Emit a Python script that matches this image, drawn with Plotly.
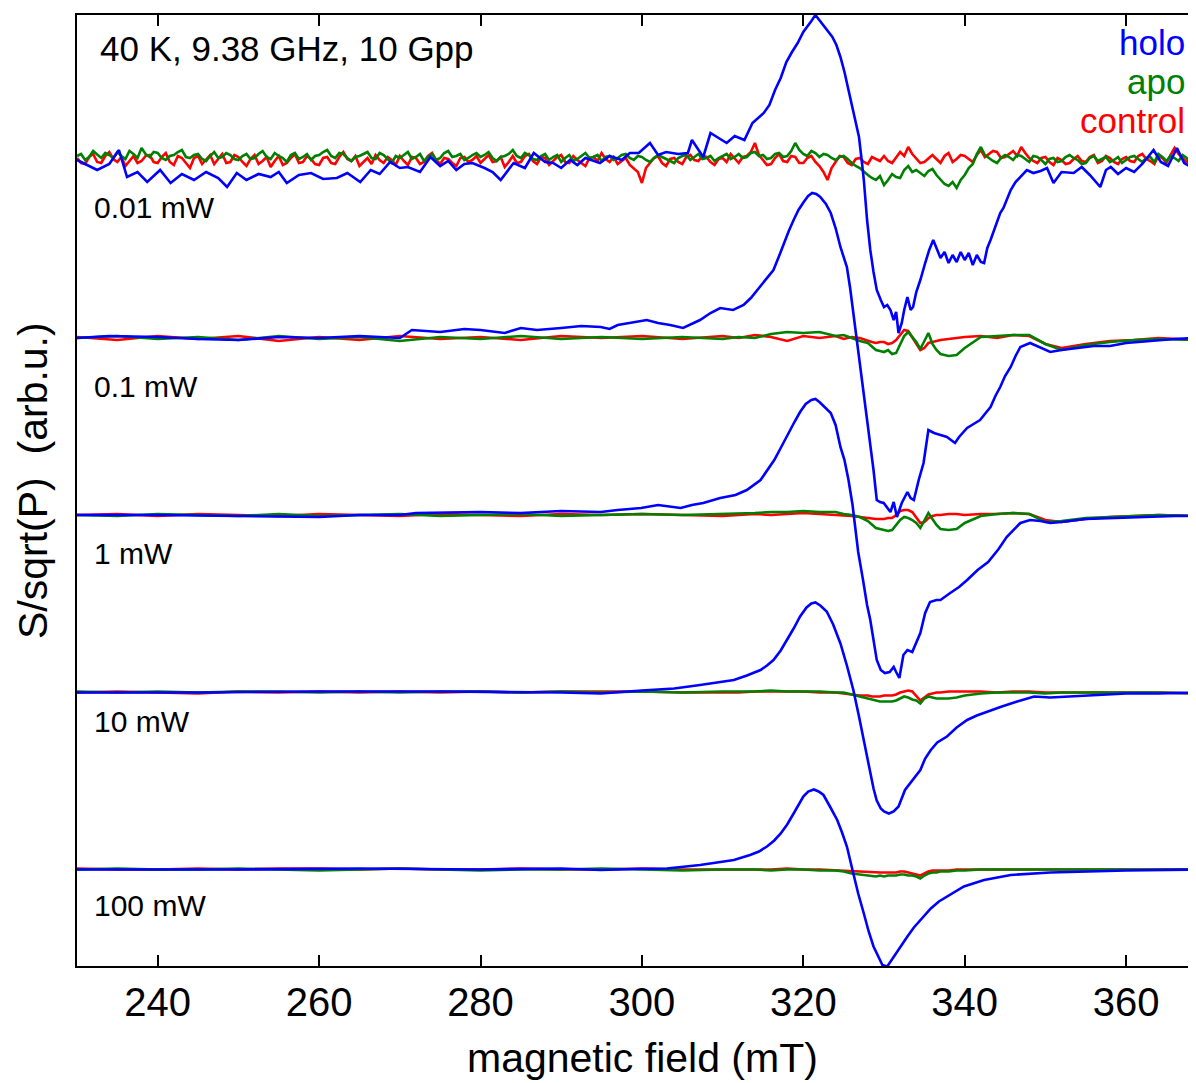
import plotly.graph_objects as go

FONT = "Liberation Sans, Arial, Helvetica, sans-serif"
BLUE, GREEN, RED = "#0000FF", "#008000", "#FF0000"

# ---- data (signal in arb.u., baseline of each spectrum = 0) ----
powers = ["0.01 mW", "0.1 mW", "1 mW", "10 mW", "100 mW"]
offsets = [709.5, 531.5, 354.5, 177, 0]          # vertical stacking of the spectra
label_dy = [-47.5, -48.7, -38, -28.5, -36]       # power label below each baseline

# 0.01 mW control / apo, sampled every 0.5 mT (230 ... 368)
field_fine = [230 + 0.5 * i for i in range(277)]
control_001 = [2, -3, -4, 3, 6, -2, -3, 4, 8, 1, -2, 3, -6, -1, 4, -3, -1, 4, 5, -2,
               -3, 3, 7, -2, -5, 4, 2, -3, -8, 2, 4, -4, 0, 5, -4, 1, 6, -3, -2, 5,
               3, -2, -6, 1, 5, -4, -1, 3, -7, -1, 4, -5, -3, 2, 6, -3, -2, 4, 1, -4,
               -5, 2, 3, -3, -4, 3, 8, 1, -1, 4, -6, -2, 2, -4, 5, 0, -3, 3, 0, -5,
               4, -1, -5, 3, 2, -4, -2, 4, 7, 0, -4, 2, 1, -3, -6, 2, 3, -2, 0, 4,
               -3, 1, 5, -2, -1, 3, -7, -2, 4, -3, -2, 4, 6, -1, -4, 3, 2, -5, -1, 3,
               5, -2, -3, 4, 0, -3, -6, 2, 3, -1, 7, 1, -2, 3, -4, -1, 2, -5, -9, -12,
               -23, -8, -3, 2, 4, -3, -6, 1, 2, -2, -4, 3, 5, 0, -1, 4, 3, -2, -5, 1,
               2, -2, 6, 1, -3, 3, 4, 8, 17, 5, 0, -5, -4, 2, 6, -1, -2, 4, 3, -3,
               -3, 2, 4, -2, -6, -12, -20, -8, -2, 4, 3, -3, -5, 1, 2, -2, -4, 3, 1, -1,
               4, -1, -3, 3, 8, 4, 13, 6, 2, -3, -2, 2, 5, 1, -3, 4, 7, -2, 1, 5,
               4, 1, -2, 5, 10, 3, 6, 9, 8, 2, 3, 6, 9, 4, 13, 7, 2, -1, -3, 2,
               3, -2, -5, 2, 0, -4, -3, 1, 4, -1, -2, 3, 5, -3, -1, 4, 2, -2, -4, 1,
               3, -1, -2, 4, 6, 1, -1, -4, 4, 2, -3, 5, 12, 6, 2, -2,
               -3]
apo_001 = [4, 6, 0, 3, 9, 5, 2, 7, 5, 2, 8, 4, 1, 9, 6, 2, 12, 6, 3, 8,
           7, 2, 0, 4, 5, 8, 10, 3, 2, 5, 6, 1, -1, 4, 8, 2, 3, 7, 5, 1,
           0, 4, 6, 1, 2, 6, 9, 3, 1, 7, 4, 2, -2, 5, 7, 1, 3, 6, 0, 4,
           5, 8, 10, 4, 2, 7, 6, 2, -1, 3, 4, 6, 8, 2, 1, 7, 5, 1, -3, 4,
           2, 5, 8, 1, 3, 6, -1, 3, 6, 0, 2, 7, 9, 3, 4, 6, 0, 2, 5, 7,
           3, 5, 8, 2, -1, 3, 4, 6, 10, 4, 2, 7, 5, 1, 0, 4, 6, 0, 3, 5,
           -2, 2, 5, -1, 1, 4, 7, 2, 3, 5, -1, 3, 4, 0, 2, 5, 6, 2, 0, 4,
           3, 0, -2, 2, 5, 3, 1, -1, -3, 2, 4, 5, 0, 3, 6, 1, 2, 4, -1, 2,
           4, 6, 1, 3, 6, 2, 3, 7, 8, 4, 5, 1, 2, 6, 7, 3, 4, 9, 17, 10,
           6, 4, 9, 7, 3, 6, 5, 2, 0, 3, 4, 1, -3, -6, -8, -12, -15, -18, -20, -16,
           -25, -20, -14, -17, -18, -10, -6, -12, -10, -13, -16, -11, -9, -15, -20, -24, -26, -22, -28, -20,
           -15, -8, -4, 6, 13, 5, 2, -1, -3, 2, 5, 3, 0, 5, 4, 1, -2, 4, 3, 0,
           -4, 1, 2, -2, -1, 3, 5, 2, 0, -4, -3, 2, 4, -1, 1, 3, -2, 0, 3, -3,
           0, 3, 4, 1, -2, 2, 3, -2, 6, 3, -1, 4, 2, -1, 5, 2,
           -4]

# control / apo at 0.1 ... 100 mW share this field grid (mT)
field_grid = [230, 235, 240, 245, 250, 255, 260, 265, 270, 275, 280, 285, 290, 295, 300, 305, 310,
              312, 314, 316, 318, 320, 322, 324, 325, 326, 327,
              328, 328.5, 329, 329.5, 330, 330.5, 331, 331.5, 332, 332.5, 333, 333.5, 334, 334.5,
              335, 335.5, 336, 336.5, 337,
              338, 339, 340, 342, 344, 346, 348, 350, 352, 355, 358, 361, 364, 368.7]
control_01 = [1, -2, 2, -1, 2, -3, 1, -2, 2, -1, 1, -2, 2, 0, 2, -1, 2,
              0, 3, 1, -3, 2, 0, 2, -1, 1, 0,
              -3, -4, -5, -4, -4, -6, -5, -2, 3, 8, 7, 1, -6, -12, -10, -5, -4, -3, -2,
              -1, 0, 1, 2, 0, 3, 2, -6, -10, -6, -3, -2, 0, -2]
apo_01 = [0, 2, -1, 1, -2, 2, -1, 1, -3, 1, -1, 2, -1, 1, -1, 1, -1,
          1, 0, 4, 6, 5, 6, 2, 3, 0, -3,
          -5, -9, -12, -13, -14, -12, -16, -15, -6, 2, 6, 1, -4, -11, -3, 5, -6, -12, -16,
          -18, -17, -10, 1, 2, 3, 3, -6, -12, -7, -4, -2, -1, -2]
control_1 = [0, 1, -1, 1, 0, -1, 1, 0, -1, 1, 0, -1, 1, 0, 1, 0, -1,
             0, 1, 0, 1, 2, 1, 0, 0, -1, -2,
             -3, -4, -4, -4, -4, -3, -3, 0, 4, 5, 5, 3, -3, -8, -7, -3, -1, 0, 0,
             1, 1, 0, 1, 1, 2, 1, -5, -7, -4, -2, -1, 0, -1]
apo_1 = [0, -1, 1, 0, -1, 1, -1, 0, 1, -1, 0, 1, -1, 0, 1, 0, 1,
         1, 2, 3, 3, 4, 3, 3, 1, 0, -2,
         -6, -10, -13, -14, -15, -16, -15, -10, -5, -2, -3, -5, -8, -13, -5, 2, -4, -10, -14,
         -15, -14, -8, -1, 1, 2, 1, -7, -6, -3, -2, -1, 0, -1]
control_10 = [0, 1, 0, -1, 1, 0, 1, 0, 1, 0, 1, 0, 1, 1, 1, 0, 0,
              0, 1, 1, 1, 1, 0, 0, -1, -2, -3,
              -3, -4, -4, -4, -3, -3, -3, -2, 0, 1, 2, 1, -3, -8, -5, -2, -1, 0, 0,
              1, 1, 1, 1, 0, 1, 1, 0, 0, 0, 0, 0, 0, -1]
apo_10 = [1, 0, 1, 0, 1, 1, 0, 1, 0, 1, 1, 0, 1, 0, 1, 0, 1,
          1, 1, 2, 1, 1, 1, 0, 0, -2, -4,
          -6, -7, -8, -9, -9, -9, -9, -8, -6, -4, -5, -7, -8, -11, -6, -4, -5, -6, -6,
          -6, -5, -3, -1, 0, 0, 0, -1, 0, 0, 0, 0, 0, -1]
control_100 = [1, 0, 0, 1, 0, 1, 1, 0, 1, 0, 0, 1, 0, 0, 1, 0, 0,
               0, 0, 0, 1, 0, 0, -1, -1, -2, -2,
               -3, -3, -3, -3, -3, -3, -3, -3, -2, -2, -3, -4, -5, -6, -4, -2, -1, -1, -1,
               -1, 0, 0, 0, 0, 0, 0, 0, 0, 0, 0, 0, 0, 0]
apo_100 = [0, 1, 0, 0, 1, 0, -1, 0, 1, 0, -1, 0, 0, 1, 0, -1, 0,
           0, 0, -1, 0, 0, -1, -1, -2, -4, -5,
           -6, -6, -7, -6, -7, -6, -6, -6, -5, -5, -6, -6, -7, -9, -6, -4, -3, -3, -2,
           -2, -1, -1, 0, 0, 0, 0, 0, 0, 0, 0, 0, 0, 0]

# holo spectra, each on its own field points
field_holo_001 = [230, 231.5, 232.5, 234, 235.2, 236.2, 237.5, 238.7, 240.3, 241.6,
                  243, 244.5, 246, 247.5, 248.6, 249.8, 251, 252.5, 254, 255,
                  256, 257.5, 259, 260.5, 262.2, 263.5, 265.1, 266.4, 267.5, 268.8,
                  270, 271, 272.5, 273.8, 275, 276, 277, 278, 279, 280.5,
                  281.5, 282.5, 284.1, 285.5, 286.6, 288, 289, 290, 291.1, 292,
                  293, 294.8, 296, 297.5, 298.5, 299.6, 301, 302, 303, 304.5,
                  305.7, 306.2, 307.6, 308.5, 309.5, 310.5, 311.5, 312.7, 313.7, 314.4,
                  315.1, 315.8, 316.5, 317.2, 317.9, 318.6, 319.3, 320, 320.5, 321,
                  321.5, 322, 322.6, 323.1, 323.6, 324.1, 324.6, 325.1, 325.5, 326.2,
                  326.9, 327.3, 327.5, 327.9, 328.3, 328.7, 329.1, 329.6, 330, 330.4,
                  330.8, 331.2, 331.5, 331.8, 332.2, 332.5, 332.9, 333.3, 333.6, 334,
                  334.5, 335.1, 335.6, 336.1, 336.5, 337, 337.5, 338, 338.5, 339,
                  339.5, 340, 340.5, 341, 341.5, 342, 342.4, 342.8, 343.2, 343.7,
                  344.4, 344.8, 345.3, 345.7, 346.3, 346.9, 347.7, 348.5, 349.4, 350.2,
                  351, 352, 353.5, 354.5, 355.5, 356.8, 357.5, 358.1, 359, 360,
                  361, 362, 363.4, 364.3, 365.2, 366.3, 367.2, 368, 368.7]
holo_001 = [0, -6, -10, -4, 10, -17, -12, -22, -10, -23,
            -14, -20, -12, -18, -27, -13, -20, -14, -17, -12,
            -23, -15, -13, -19, -18, -13, -22, -10, -14, -2,
            -8, -7, -12, 3, -6, -1, -10, -4, -3, -8,
            -12, -20, -3, -8, 7, -2, -3, -8, 0, -5,
            2, -3, 4, 0, 7, 7, 17, 5, 8, 6,
            7, 20, 3, 27, 22, 17, 24, 20, 37, 42,
            47, 55, 70, 82, 98, 108, 117, 128, 133, 139,
            145, 140, 133, 128, 123, 115, 103, 88, 73, 50,
            23, -5, -20, -60, -90, -112, -130, -140, -147, -145,
            -150, -160, -152, -173, -163, -150, -137, -150, -147, -132,
            -120, -103, -90, -80, -88, -98, -92, -103, -95, -102,
            -92, -100, -93, -105, -95, -102, -103, -88, -80, -68,
            -53, -48, -38, -30, -22, -17, -10, -13, -11, -8,
            -23, -12, -13, -7, -15, -27, -10, -7, -14, -8,
            -12, -4, 10, -2, -6, 12, -3, -7, -2]

field_holo_01 = [230, 234, 240, 245, 250, 255, 260, 265, 270, 271.5,
                 275, 278, 280, 283, 285, 287, 290, 292.5, 294.9, 296,
                 297, 300.6, 302, 303.5, 305.1, 307.2, 308.5, 309.7, 311.3, 312.6,
                 313.5, 314.3, 315.3, 316.3, 317, 317.6, 318.2, 318.8, 319.4, 320.05,
                 320.6, 321.1, 321.6, 322.1, 322.8, 323.4, 324, 324.6, 325, 325.4,
                 325.8, 326.2, 326.6, 327.1, 327.5, 327.9, 328.3, 328.7, 329.1, 329.5,
                 329.96, 330.4, 330.8, 331.2, 331.6, 332.2, 332.9, 333.3, 333.7, 334.3,
                 334.9, 335.5, 336.2, 337, 337.8, 338.3, 338.8, 339.3, 340.3, 341.1,
                 341.9, 342.6, 343.2, 343.8, 344.4, 345, 345.7, 346.3, 346.9, 348.1,
                 349.3, 350.6, 352, 354, 356, 358, 360, 363, 366, 368.7]
holo_01 = [0, 2, 1, -1, -2, 1, 0, 2, 0, 8,
           6, 9, 8, 5, 10, 8, 10, 12, 11, 9,
           13, 18, 15, 13, 10, 18, 25, 30, 28, 33,
           40, 48, 57, 68, 82, 95, 107, 118, 128, 136,
           142, 145, 144, 141, 134, 125, 110, 91, 80, 71,
           50, 25, -2, -29, -55, -82, -107, -132, -162, -164,
           -165, -170, -174, -164, -179, -165, -154, -160, -162, -142,
           -125, -92, -95, -97, -99, -102, -105, -99, -90, -86,
           -82, -75, -69, -58, -49, -38, -29, -18, -9, -5,
           -9, -14, -12, -10, -8, -8, -5, -3, -1, 0]

field_holo_1 = [230, 240, 250, 260, 265, 270, 272, 280, 285, 290,
                294.9, 297, 299.9, 302, 304.8, 306.2, 307.6, 309.7, 311.6, 313,
                314.7, 315.6, 316.4, 317.2, 317.9, 318.9, 319.6, 320.3, 321, 321.5,
                322, 322.6, 323.4, 324, 324.6, 325.1, 325.6, 326.1, 326.4, 326.8,
                327.4, 327.9, 328.3, 328.7, 329.1, 329.6, 330.1, 330.7, 331.2, 331.5,
                331.9, 332.4, 332.9, 333.5, 334.5, 335.1, 335.7, 336.5, 337, 338.2,
                339.3, 340.3, 341.6, 342.9, 344.2, 345.2, 346, 346.9, 348.1, 349.4,
                350.6, 352, 355, 358, 362, 366, 368.7]
holo_1 = [0, 0, -1, -2, 0, 0, 2, 3, 2, 4,
          3, 5, 7, 10, 7, 10, 12, 17, 20, 25,
          35, 45, 55, 67, 78, 93, 103, 111, 115, 116,
          113, 108, 102, 90, 68, 55, 35, 10, -12, -37,
          -65, -90, -105, -125, -145, -155, -158, -157, -152, -157,
          -163, -140, -135, -137, -118, -98, -87, -85, -85, -78,
          -72, -65, -55, -47, -34, -22, -15, -8, -5, -6,
          -8, -7, -4, -3, -2, -1, -1]

field_holo_10 = [230, 245, 260, 275, 290, 294.9, 300, 304, 307.2, 311.4,
                 313, 314.7, 315.5, 316.3, 317.2, 318, 318.8, 319.6, 320.4, 321,
                 321.5, 322.1, 322.9, 323.7, 324.6, 325.4, 326.2, 326.9, 327.5, 327.9,
                 328.3, 328.7, 329.1, 329.6, 330, 330.6, 331.2, 331.8, 332.6, 333.5,
                 334.5, 335.1, 335.8, 336.6, 337.8, 339, 340.3, 341.5, 342.8, 344.6,
                 346.5, 348.6, 350.6, 353, 356, 360, 364, 368.7]
holo_10 = [0, 0, 1, 1, 0, -1, 2, 4, 7.5, 12.5,
           17, 22.5, 27, 32.5, 42, 52.5, 64, 76, 85, 89,
           90, 87, 81, 68, 49, 27, 2.5, -24, -48, -65,
           -81, -96, -108, -116, -119, -121, -119, -114, -97.5, -88,
           -77.5, -66, -57.5, -50, -44, -35, -27.5, -23, -19, -14,
           -9, -4, -5, -4, -2, -1, -1, 0]

field_holo_100 = [230, 250, 265, 280, 290, 294.9, 299, 303.1, 307.2, 309.5,
                  311.4, 313.4, 314.5, 315.5, 316.4, 317.2, 318, 318.8, 319.4, 320,
                  320.6, 321.3, 321.9, 322.5, 323.3, 324.2, 324.8, 325.4, 326.2, 326.8,
                  327.5, 328.1, 328.7, 329.3, 329.8, 330.4, 331.2, 332, 332.9, 333.7,
                  334.5, 335.8, 336.8, 337.8, 339.9, 342.4, 345.7, 350.6, 355, 360,
                  368.7]
holo_100 = [0, 0, 1, 0, 1, -0.5, 0.5, 1, 4.5, 7,
            9.5, 14.5, 18, 23, 29, 36, 45, 56, 65, 73,
            78, 80, 78, 74.5, 63, 49.5, 37, 23, -4, -24,
            -44, -62, -77, -88, -95.5, -97, -87, -77, -67, -58,
            -50.5, -39, -32, -27, -17, -10.5, -5.5, -3, -2, -1,
            0]

tick_vals = [240, 260, 280, 300, 320, 340, 360]

control = [(field_fine, control_001), (field_grid, control_01), (field_grid, control_1),
           (field_grid, control_10), (field_grid, control_100)]
apo = [(field_fine, apo_001), (field_grid, apo_01), (field_grid, apo_1),
       (field_grid, apo_10), (field_grid, apo_100)]
holo = [(field_holo_001, holo_001), (field_holo_01, holo_01), (field_holo_1, holo_1),
        (field_holo_10, holo_10), (field_holo_100, holo_100)]

fig = go.Figure()
# red first, then green, blue on top
for series, color, name in [(control, RED, "control"), (apo, GREEN, "apo"), (holo, BLUE, "holo")]:
    for (x, s), off, p in zip(series, offsets, powers):
        fig.add_trace(go.Scatter(x=x, y=[v + off for v in s], mode="lines",
                                 line=dict(color=color, width=2.6), name=f"{name} {p}"))

# the page puts the figure 8 px in from the top-left corner;
# plot area should land at x 77..1196, y 15..966 in the window
def px_x(p):
    return (p - 77) / 1119

def px_y(p):
    return (966 - p) / 951

annotations = []
for p, off, dy in zip(powers, offsets, label_dy):
    annotations.append(dict(x=px_x(92), y=off + dy, xref="paper", yref="y", text=p,
                            showarrow=False, xanchor="left", yanchor="middle",
                            font=dict(size=30, color="black")))
annotations.append(dict(x=px_x(98), y=px_y(48), xref="paper", yref="paper",
                        text="40 K, 9.38 GHz, 10 Gpp", showarrow=False,
                        xanchor="left", yanchor="middle", font=dict(size=35, color="black")))
for txt, col, yp in [("holo", BLUE, 42.5), ("apo", GREEN, 81), ("control", RED, 121)]:
    annotations.append(dict(x=px_x(1187), y=px_y(yp), xref="paper", yref="paper", text=txt,
                            showarrow=False, xanchor="right", yanchor="middle",
                            font=dict(size=35, color=col)))
annotations.append(dict(x=px_x(642), y=px_y(1058), xref="paper", yref="paper",
                        text="magnetic field (mT)", showarrow=False,
                        xanchor="center", yanchor="middle", font=dict(size=41, color="black")))
annotations.append(dict(x=px_x(33), y=px_y(481), xref="paper", yref="paper",
                        text="S/sqrt(P) \u00a0(arb.u.)", showarrow=False, textangle=-90,
                        xanchor="center", yanchor="middle", font=dict(size=41, color="black")))

fig.update_layout(
    width=1188, height=1075,
    margin=dict(l=69, r=0, t=7, b=117),
    paper_bgcolor="white", plot_bgcolor="white",
    showlegend=False,
    font=dict(family=FONT, color="black"),
    annotations=annotations,
    xaxis=dict(range=[230, 368.66], tickvals=tick_vals, ticks="inside", ticklen=11,
               tickwidth=2, tickcolor="black", showline=True, linewidth=2, linecolor="black",
               mirror="ticks", showgrid=False, zeroline=False,
               tickfont=dict(size=40, color="black")),
    yaxis=dict(range=[-96.5, 854.5], showline=True, linewidth=2, linecolor="black",
               showticklabels=False, ticks="", showgrid=False, zeroline=False),
)

fig.write_html("out.html")
